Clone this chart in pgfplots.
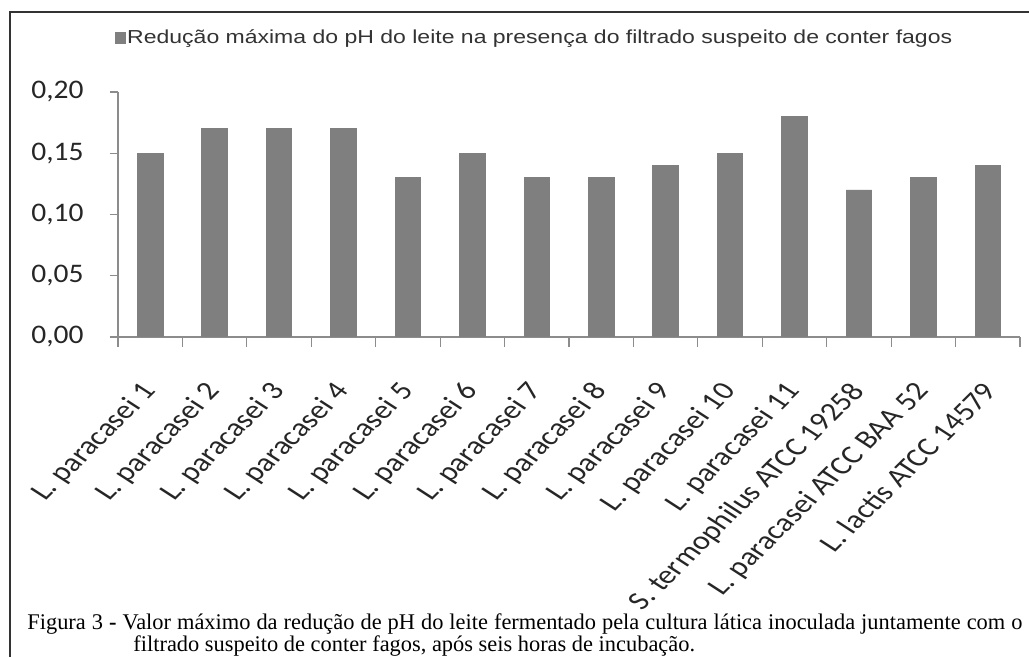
\documentclass[border=0pt]{standalone}
\usepackage{fontspec}
\setmainfont{Carlito}
\newfontfamily\legfont{Liberation Sans}
\newfontfamily\capfont{Liberation Serif}
\usepackage{graphicx}
\usepackage{pgfplots}
\pgfplotsset{compat=1.18}
\definecolor{barc}{HTML}{7F7F7F}
\definecolor{axc}{HTML}{8C8C8C}
\definecolor{txt}{HTML}{262626}
\newcommand\xl[1]{\scalebox{1.25}[1]{\rotatebox{51}{#1}}}
\newcommand\yl[1]{\scalebox{1.1}[1]{#1}}
\begin{document}
\begin{tikzpicture}
\useasboundingbox (0,0) rectangle (514.5pt,328.5pt);
\fill[white] (0,0) rectangle (514.5pt,328.5pt);
\draw[line width=0.75pt, color=black!80] (5pt,-2pt) -- (5pt,322.5pt) -- (520pt,322.5pt);
\begin{axis}[
  at={(59pt,160pt)}, anchor=south west,
  scale only axis, width=451pt, height=122.5pt,
  xmin=-0.5, xmax=13.5, ymin=0, ymax=0.2,
  ybar, bar width=12.75pt,
  axis x line=bottom, axis y line=left,
  axis line style={draw=axc, line width=0.6pt, -},
  tick align=outside,
  major tick length=4pt, minor tick length=5pt,
  tick style={draw=axc, line width=0.6pt},
  major x tick style={draw=none},
  xtick={0,...,13},
  minor xtick={-0.5,0.5,...,13.5},
  ytick={0,0.05,0.1,0.15,0.2},
  scaled y ticks=false,
  xticklabels={\xl{L. paracasei 1},\xl{L. paracasei 2},\xl{L. paracasei 3},\xl{L. paracasei 4},\xl{L. paracasei 5},\xl{L. paracasei 6},\xl{L. paracasei 7},\xl{L. paracasei 8},\xl{L. paracasei 9},\xl{L. paracasei 10},\xl{L. paracasei 11},\xl{S. termophilus ATCC 19258},\xl{L. paracasei ATCC BAA 52},\xl{L. lactis ATCC 14579}},
  xticklabel style={anchor=north east, inner sep=0pt, xshift=5.5pt, yshift=-17.5pt, font=\fontsize{13}{14}\selectfont, text=txt},
  yticklabel={\yl{\pgfmathprintnumber{\tick}}},
  yticklabel style={/pgf/number format/.cd, fixed, fixed zerofill, precision=2, use comma, assume math mode=true, /tikz/.cd, anchor=east, inner sep=0pt, xshift=-13pt, font=\fontsize{13.4}{15}\selectfont, text=txt},
  legend style={at={(axis description cs:-0.0033,1.2204)}, anchor=west, draw=none, fill=none, inner sep=0pt, font=\legfont\fontsize{9.4}{10}\selectfont, text=black!80, nodes={inner sep=0.5pt}, /tikz/every odd column/.style={column sep=0pt}},
  legend image code/.code={\fill[barc] (0pt,-2.7pt) rectangle (5pt,2.7pt);},
]
\addplot[fill=barc, draw=barc] coordinates {(0,0.15) (1,0.17) (2,0.17) (3,0.17) (4,0.13) (5,0.15) (6,0.13) (7,0.13) (8,0.14) (9,0.15) (10,0.18) (11,0.12) (12,0.13) (13,0.14)};
\addlegendentry{\resizebox{412.5pt}{\height}{Redução máxima do pH do leite na presença do filtrado suspeito de conter fagos}}
\end{axis}
\node[anchor=base west, inner sep=0pt, font=\capfont\fontsize{11.2}{13}\selectfont] at (13.5pt,13.5pt) {\makebox[497.5pt][s]{Figura 3 \textbf{-} Valor máximo da redução de pH do leite fermentado pela cultura lática inoculada juntamente com o}};
\node[anchor=base west, inner sep=0pt, font=\capfont\fontsize{11.2}{13}\selectfont] at (66.5pt,2.5pt) {filtrado suspeito de conter fagos, após seis horas de incubação.};
\end{tikzpicture}
\end{document}
